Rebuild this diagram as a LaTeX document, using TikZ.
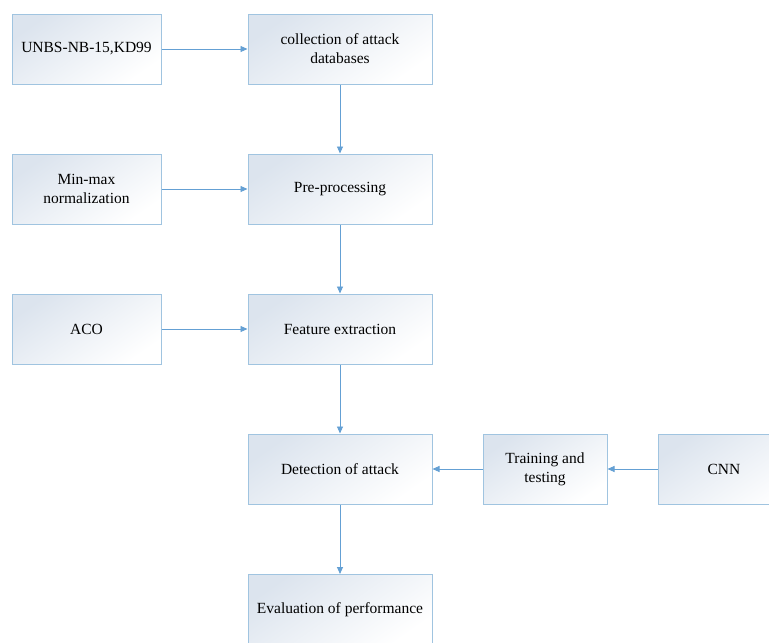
\documentclass[tikz,border=0pt]{standalone}
\usepackage{fontspec}
\setmainfont{Liberation Serif}
\newfontfamily\tnr{Liberation Serif}
\usetikzlibrary{arrows.meta}
\definecolor{boxline}{RGB}{160,196,224}
\definecolor{arrowc}{RGB}{100,160,212}
\definecolor{shadec}{RGB}{220,228,238}
\tikzset{
  box/.style={draw=boxline, line width=1pt, top color=shadec, bottom color=white, shading angle=35,
    minimum height=70pt, inner sep=2pt, align=center, font=\tnr\fontsize{15.5pt}{19pt}\selectfont, text=black},
  conn/.style={draw=arrowc, line width=0.9pt, -{Triangle[length=7pt,width=6pt]}}
}
\begin{document}
\begin{tikzpicture}[x=1pt,y=-1pt]
\useasboundingbox (0,0) rectangle (769,643);
\clip (0,0) rectangle (769,643);
\fill[white] (0,0) rectangle (769,643);
% left column
\node[box, minimum width=149pt] (unbs) at (86.5,49) {UNBS-NB-15,KD99};
\node[box, minimum width=149pt] (minmax) at (86.5,189) {Min-max\\normalization};
\node[box, minimum width=149pt] (aco) at (86.5,329) {ACO};
% center column
\node[box, minimum width=184pt] (coll) at (340,49) {collection of attack\\databases};
\node[box, minimum width=184pt] (pre) at (340,189) {Pre-processing};
\node[box, minimum width=184pt] (feat) at (340,329) {Feature extraction};
\node[box, minimum width=184pt] (det) at (340,469) {Detection of attack};
\node[box, minimum width=184pt] (eval) at (340,609.5) {Evaluation of performance};
% right
\node[box, minimum width=124pt] (train) at (545,469) {Training and\\testing};
\node[box, minimum width=150pt, text width=110pt] (cnn) at (733,469) {\hspace*{-18pt}CNN};
% connectors
\draw[conn] (unbs) -- (coll);
\draw[conn] (minmax) -- (pre);
\draw[conn] (aco) -- (feat);
\draw[conn] (coll) -- (pre);
\draw[conn] (pre) -- (feat);
\draw[conn] (feat) -- (det);
\draw[conn] (det) -- (eval);
\draw[conn] (train) -- (det);
\draw[conn] (cnn) -- (train);
\end{tikzpicture}
\end{document}
